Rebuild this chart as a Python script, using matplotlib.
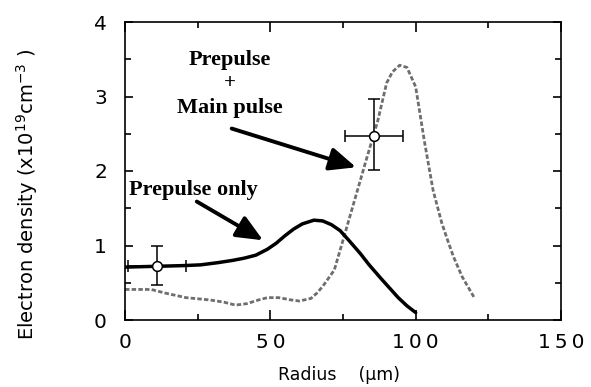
import numpy as np
import matplotlib.pyplot as plt
from matplotlib.ticker import MultipleLocator

# Prepulse only (solid black)
r_pre = [0, 10, 20, 26, 32, 37, 41, 45, 49, 52, 55, 58, 61, 65, 68, 71, 74, 77, 81, 84, 88, 91, 94, 97, 100]
n_pre = [0.71, 0.72, 0.73, 0.74, 0.77, 0.80, 0.83, 0.87, 0.95, 1.03, 1.13, 1.22, 1.29, 1.34, 1.33, 1.28, 1.20, 1.07, 0.89, 0.74, 0.56, 0.43, 0.30, 0.19, 0.10]

# Prepulse + main pulse (gray dotted)
r_main = [0, 9, 14, 21, 29, 34, 38, 42, 46, 49, 53, 57, 60, 64, 66, 68, 70, 72, 75, 79, 83, 87, 90, 92, 94.5, 97, 100,
          103, 106, 109, 111, 113, 116, 120]
n_main = [0.41, 0.41, 0.36, 0.30, 0.27, 0.24, 0.20, 0.22, 0.27, 0.30, 0.30, 0.27, 0.255, 0.29, 0.36, 0.45, 0.56, 0.67, 1.07, 1.61,
          2.15, 2.68, 3.18, 3.33, 3.42, 3.39, 3.13, 2.40, 1.74, 1.30, 1.07, 0.85, 0.58, 0.31]

# measured points with error bars
r_meas = [10.9, 85.7]
n_meas = [0.73, 2.47]
r_err = [10, 10]
n_err_lo = [0.26, 0.46]
n_err_hi = [0.27, 0.50]

x_ticks = [0, 50, 100, 150]
x_labels = ["0", "5\u20090", "1\u20090\u20090", "1\u20095\u20090"]
y_ticks = [0, 1, 2, 3, 4]

fig = plt.figure(figsize=(5.91, 3.87), dpi=100)
ax = fig.add_axes([125 / 591, 1 - 320 / 387, 436 / 591, 298 / 387])

ax.plot(r_main, n_main, color="#6e6e6e", lw=2.0, linestyle=(0, (1.6, 0.8)))
ax.plot(r_pre, n_pre, color="black", lw=2.5, solid_capstyle="round")
ax.errorbar(r_meas, n_meas, xerr=r_err, yerr=[n_err_lo, n_err_hi], fmt="o", ms=7, mfc="white", mec="black",
            mew=1.1, ecolor="black", elinewidth=1.1, capsize=4, capthick=1.1, zorder=5)

serif = ["Liberation Serif", "DejaVu Serif"]
ax.text(36, 3.49, "Prepulse", ha="center", va="center", fontsize=16, fontweight="bold", family=serif)
ax.text(36, 3.18, "+", ha="center", va="center", fontsize=15, fontweight="bold", family=serif)
ax.text(36, 2.85, "Main pulse", ha="center", va="center", fontsize=16, fontweight="bold", family=serif)
ax.text(1.5, 1.74, "Prepulse only", ha="left", va="center", fontsize=16, fontweight="bold", family=serif)

arrow = dict(arrowstyle="-|>,head_length=1.6,head_width=0.7", color="black", lw=2.8, shrinkA=0, shrinkB=0)
ax.annotate("", xy=(79.5, 2.05), xytext=(36.7, 2.57), arrowprops=arrow)
ax.annotate("", xy=(47.5, 1.07), xytext=(24.7, 1.59), arrowprops=arrow)

ax.set_xlim(0, 150)
ax.set_ylim(0, 4)
ax.set_xticks(x_ticks)
ax.set_xticklabels(x_labels)
ax.set_yticks(y_ticks)
ax.xaxis.set_minor_locator(MultipleLocator(25))
ax.yaxis.set_minor_locator(MultipleLocator(0.5))
ax.tick_params(which="both", direction="in", top=True, right=True, width=1.2, labelsize=14.5)
ax.tick_params(axis="x", which="major", length=7, pad=9)
ax.tick_params(axis="y", which="major", length=6, pad=13)
ax.tick_params(which="minor", length=4)
for s in ax.spines.values():
    s.set_linewidth(1.2)

ax.set_xlabel("Radius    (\u03bcm)", fontsize=12.5)
ax.xaxis.set_label_coords(0.49, -0.155)
ax.set_ylabel("Electron density (x10$^{19}$cm$^{-3}$ )", fontsize=14)
ax.yaxis.set_label_coords(-0.195, 0.42)

fig.savefig("out.png", dpi=100)
